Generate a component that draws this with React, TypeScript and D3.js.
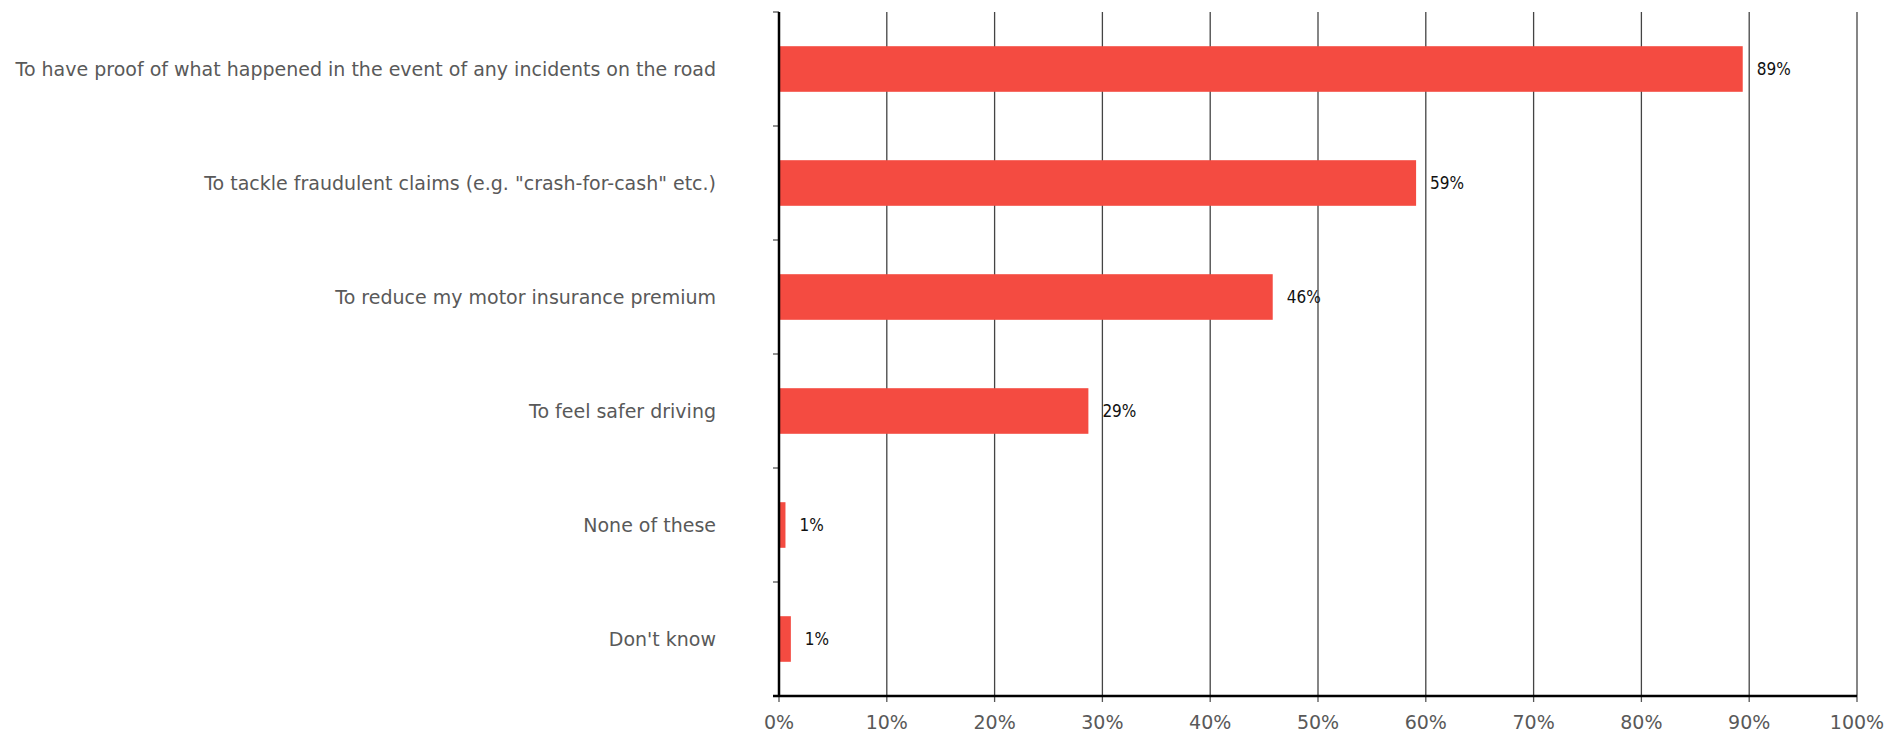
import React from "react";
import * as d3 from "d3";

const categories = [
  "To have proof of what happened in the event of any incidents on the road",
  'To tackle fraudulent claims (e.g. "crash-for-cash" etc.)',
  "To reduce my motor insurance premium",
  "To feel safer driving",
  "None of these",
  "Don't know",
];
const values = [89.4, 59.1, 45.8, 28.7, 0.6, 1.1];
const valueLabels = ["89%", "59%", "46%", "29%", "1%", "1%"];
const xTicks = [0, 10, 20, 30, 40, 50, 60, 70, 80, 90, 100];

const W = 1903;
const H = 733;
const M = { left: 779, right: 46, top: 12, bottom: 37 };

export default function App() {
  const x = d3.scaleLinear().domain([0, 100]).range([M.left, W - M.right]);
  const y = d3
    .scaleBand<string>()
    .domain(categories)
    .range([M.top, H - M.bottom])
    .paddingInner(0.6)
    .paddingOuter(0.3);
  const yEdges = d3.range(categories.length + 1).map((i) => M.top + (i * (H - M.bottom - M.top)) / categories.length);
  const font = "'DejaVu Sans Condensed', 'DejaVu Sans', sans-serif";
  const catFont = "'DejaVu Sans', sans-serif";
  return (
    <svg width={W} height={H} style={{ position: "absolute", left: 0, top: 0, background: "#fff" }}>
      {xTicks.slice(1).map((t) => (
        <line key={t} x1={x(t)} x2={x(t)} y1={M.top} y2={H - M.bottom} stroke="#444" strokeWidth={1.3} />
      ))}
      {categories.map((c, i) => (
        <g key={c}>
          <rect x={x(0)} y={y(c)} width={x(values[i]) - x(0)} height={y.bandwidth()} fill="#f44b41" />
          <text
            x={x(values[i]) + 14}
            y={(y(c) as number) + y.bandwidth() / 2}
            dy="0.35em"
            fontFamily={font}
            fontSize={17}
            fill="#111"
          >
            {valueLabels[i]}
          </text>
          <text
            x={M.left - 63}
            y={(y(c) as number) + y.bandwidth() / 2}
            dy="0.35em"
            textAnchor="end"
            fontFamily={catFont}
            fontSize={19}
            fill="#595959"
          >
            {c}
          </text>
        </g>
      ))}
      {yEdges.map((e, i) => (
        <line key={i} x1={M.left - 6} x2={M.left} y1={e} y2={e} stroke="#555" strokeWidth={1.3} />
      ))}
      {xTicks.map((t) => (
        <g key={t}>
          <line x1={x(t)} x2={x(t)} y1={H - M.bottom} y2={H - M.bottom + 6} stroke="#555" strokeWidth={1.3} />
          <text
            x={x(t)}
            y={H - M.bottom + 26}
            dy="0.35em"
            textAnchor="middle"
            fontFamily={catFont}
            fontSize={19}
            fill="#595959"
          >
            {t}%
          </text>
        </g>
      ))}
      <line x1={M.left} x2={M.left} y1={M.top} y2={H - M.bottom} stroke="#000" strokeWidth={2.5} />
      <line x1={M.left - 6} x2={W - M.right} y1={H - M.bottom} y2={H - M.bottom} stroke="#000" strokeWidth={2.5} />
    </svg>
  );
}
